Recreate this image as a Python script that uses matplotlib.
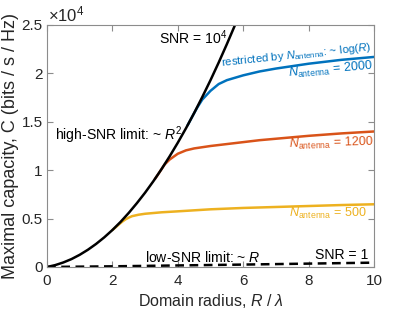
import numpy as np
import matplotlib
matplotlib.use("Agg")
import matplotlib.pyplot as plt
from matplotlib.ticker import FuncFormatter

plt.rcParams['font.family'] = ['Liberation Sans', 'DejaVu Sans']
plt.rcParams['mathtext.fontset'] = 'custom'
plt.rcParams['mathtext.rm'] = 'Liberation Sans'
plt.rcParams['mathtext.it'] = 'Liberation Sans:italic'
plt.rcParams['mathtext.bf'] = 'Liberation Sans:bold'

# high-SNR (SNR = 1e4), bits/s/Hz
R_high = [0, 0.25, 0.5, 0.75, 1.0, 1.25, 1.5, 1.75, 2.0, 2.25, 2.5, 2.75, 3.0,
          3.25, 3.5, 3.75, 4.0, 4.25, 4.5, 4.75, 5.0, 5.25, 5.5, 5.75, 6.0]
C_high = [0, 194, 470, 820, 1260, 1780, 2380, 3060, 3820, 4660, 5590, 6600, 7680,
          8850, 10100, 11430, 12840, 14330, 15910, 17570, 19300, 21120, 23020, 25000, 27060]

# N_antenna = 500
R_500 = [2.0, 2.1, 2.2, 2.3, 2.4, 2.5, 2.6, 2.8, 3.0, 3.5, 4.0, 5.0, 6.0, 7.0, 8.0, 9.0, 10.0]
C_500 = [3820, 4100, 4400, 4680, 4920, 5100, 5250, 5400, 5500, 5650, 5750, 5960, 6100,
         6200, 6300, 6400, 6480]

# N_antenna = 1200
R_1200 = [3.3, 3.4, 3.5, 3.6, 3.75, 4.0, 4.25, 4.5, 5.0, 5.5, 6.0, 6.5, 7.0, 8.0, 9.0, 10.0]
C_1200 = [9090, 9580, 10100, 10600, 11100, 11700, 12050, 12250, 12500, 12700, 12900,
          13100, 13250, 13550, 13800, 14000]

# N_antenna = 2000
R_2000 = [4.3, 4.4, 4.5, 4.6, 4.75, 5.0, 5.25, 5.5, 6.0, 6.5, 7.0, 8.0, 9.0, 10.0]
C_2000 = [14640, 15270, 15900, 16500, 17300, 18200, 18900, 19300, 19800, 20200, 20500,
          21000, 21400, 21700]

# low-SNR (SNR = 1)
R_low = [0, 2, 4, 6, 8, 10]
C_low = [0, 70, 160, 250, 350, 450]

blue = '#0072BD'
red = '#D95319'
yellow = '#EDB120'
txt = '#262626'

fig = plt.figure(figsize=(4.15, 3.16), dpi=100)
ax = fig.add_axes([47/415, 1-267/316, (374-47)/415, (267-25)/316])

ax.plot(R_2000, C_2000, color=blue, lw=1.8, solid_capstyle='round')
ax.plot(R_1200, C_1200, color=red, lw=1.8, solid_capstyle='round')
ax.plot(R_500, C_500, color=yellow, lw=1.8, solid_capstyle='round')
ax.plot(R_high, C_high, color='black', lw=1.8)
ax.plot(R_low, C_low, color='black', lw=1.8, ls=(0, (3.5, 2.2)))

ax.set_xlim(0, 10)
ax.set_ylim(0, 25000)
ax.set_xticks([0, 2, 4, 6, 8, 10])
ax.set_yticks([0, 5000, 10000, 15000, 20000, 25000])
ax.yaxis.set_major_formatter(FuncFormatter(lambda v, p: '%g' % (v / 1e4)))

for s in ax.spines.values():
    s.set_color('#8c8c8c')
    s.set_linewidth(0.8)
ax.tick_params(direction='in', length=4, width=0.8, color='#8c8c8c',
               labelcolor=txt, labelsize=11, top=True, right=True, pad=3)
ax.tick_params(axis='x', pad=5)

ax.set_xlabel(r'Domain radius, $R$ / $\lambda$', fontsize=11.5, color=txt, labelpad=3)
ax.set_ylabel('Maximal capacity, C (bits / s / Hz)', fontsize=13, color=txt, labelpad=2)

fig.text(48/415, 1-21/316, r'$\times10^4$', fontsize=12, color=txt, ha='left', va='baseline')

fs = 10.1
fsn = 9.0
ax.text(3.43, 23000, r'SNR = $10^4$', fontsize=fs, color='black', ha='left', va='baseline')
ax.text(0.245, 13100, r'high-SNR limit: ~ $R^2$', fontsize=fs, color='black', ha='left', va='baseline')
ax.text(9.94, 22400, r'restricted by $N_{\mathrm{antenna}}$: ~ log($R$)', fontsize=8.2,
        color=blue, ha='right', va='baseline', rotation=6, rotation_mode='anchor')
ax.text(9.97, 20450, r'$N_{\mathrm{antenna}}$ = 2000', fontsize=fsn, color=blue,
        ha='right', va='baseline', rotation=5, rotation_mode='anchor')
ax.text(9.97, 12500, r'$N_{\mathrm{antenna}}$ = 1200', fontsize=fsn, color=red,
        ha='right', va='baseline', rotation=1.5, rotation_mode='anchor')
ax.text(9.79, 5170, r'$N_{\mathrm{antenna}}$ = 500', fontsize=fsn, color=yellow,
        ha='right', va='baseline')
ax.text(9.82, 830, 'SNR = 1', fontsize=fs, color='black', ha='right', va='baseline')
ax.text(3.0, 520, r'low-SNR limit: ~ $R$', fontsize=fs, color='black', ha='left', va='baseline')

fig.savefig('out.png', dpi=100)
